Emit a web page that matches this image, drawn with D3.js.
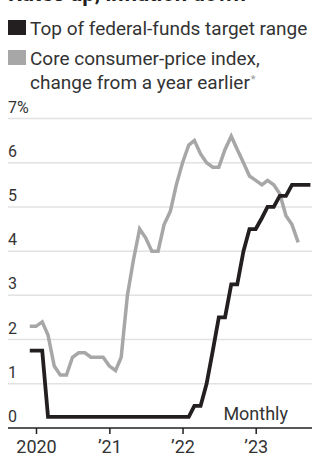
<!DOCTYPE html>
<html>
<head>
<meta charset="utf-8">
<script src="https://cdn.jsdelivr.net/npm/d3@7"></script>
<style>
  html, body { margin: 0; padding: 0; background: #fff; }
  svg { display: block; font-family: Roboto, "Noto Sans", sans-serif; }
</style>
</head>
<body>
<svg width="312" height="459"></svg>
<script>
 // monthly, Dec 2019 onward
 const fedStart = new Date(2019, 11, 1);
 const fedFunds = [1.75, 1.75, 1.75, 0.25, 0.25, 0.25, 0.25, 0.25, 0.25, 0.25, 0.25, 0.25, 0.25,
   0.25, 0.25, 0.25, 0.25, 0.25, 0.25, 0.25, 0.25, 0.25, 0.25, 0.25, 0.25,
   0.25, 0.25, 0.5, 0.5, 1.0, 1.75, 2.5, 2.5, 3.25, 3.25, 4.0, 4.5,
   4.5, 4.75, 5.0, 5.0, 5.25, 5.25, 5.5, 5.5, 5.5, 5.5];
 const coreCpi = [2.3, 2.3, 2.4, 2.1, 1.4, 1.2, 1.2, 1.6, 1.7, 1.7, 1.6, 1.6, 1.6,
   1.4, 1.3, 1.6, 3.0, 3.8, 4.5, 4.3, 4.0, 4.0, 4.6, 4.9, 5.5,
   6.0, 6.4, 6.5, 6.2, 6.0, 5.9, 5.9, 6.3, 6.6, 6.3, 6.0, 5.7,
   5.6, 5.5, 5.6, 5.5, 5.3, 4.8, 4.6, 4.2];
 const yTicks = [0, 1, 2, 3, 4, 5, 6, 7];
 const xTicks = [new Date(2020, 0, 1), new Date(2021, 0, 1), new Date(2022, 0, 1), new Date(2023, 0, 1)];
 const xTickLabels = ["2020", "\u201921", "\u201922", "\u201923"];
 const legendItems = [
   {lines: ["Top of federal-funds target range"], color: "#231f20"},
   {lines: ["Core consumer-price index,", "change from a year earlier"], color: "#a7a7a7", note: "*"}
 ];

 const svg = d3.select("svg"),
   width = +svg.attr("width"),
   height = +svg.attr("height");

 const x = d3.scaleTime()
   .domain([xTicks[0], xTicks[3]])
   .range([36, 255.7]);

 const y = d3.scaleLinear()
   .domain([0, 7])
   .range([428, 118.5]);

 const toSeries = vals => vals.map((v, i) => ({date: d3.timeMonth.offset(fedStart, i), value: v}));

 // title, mostly cut off at the top
 svg.append("text")
   .attr("x", 8)
   .attr("y", 1)
   .attr("font-size", 22)
   .attr("font-weight", 700)
   .attr("fill", "#231f20")
   .text("Rates up, inflation down");

 // legend
 const legend = svg.append("g");
 legendItems.forEach((d, i) => {
   const top = i === 0 ? 20 : 50;
   legend.append("rect")
     .attr("x", 8)
     .attr("y", top)
     .attr("width", 18)
     .attr("height", 15)
     .attr("fill", d.color);
   const t = legend.append("text")
     .attr("font-size", 19)
     .attr("fill", "#333");
   d.lines.forEach((line, j) => {
     t.append("tspan")
       .attr("x", 30)
       .attr("y", top + 14.5 + j * 24)
       .text(line);
   });
   if (d.note) {
     t.append("tspan")
       .attr("dx", 1)
       .attr("dy", -6)
       .attr("font-size", 11)
       .attr("fill", "#999")
       .text(d.note);
   }
 });

 // grid
 svg.append("g")
   .selectAll("line")
   .data(yTicks.filter(d => d > 0))
   .join("line")
     .attr("x1", 8)
     .attr("x2", width)
     .attr("y1", d => y(d))
     .attr("y2", d => y(d))
     .attr("stroke", "#e2e2e2")
     .attr("stroke-width", 1.5);

 svg.append("g")
   .selectAll("text")
   .data(yTicks)
   .join("text")
     .attr("x", 8)
     .attr("y", d => y(d) - 6)
     .attr("font-size", 16)
     .attr("fill", "#333")
     .text(d => d === 7 ? d + "%" : d);

 // x axis
 const xAxis = d3.axisBottom(x)
   .tickValues(xTicks)
   .tickSize(6)
   .tickFormat((d, i) => xTickLabels[i]);

 const gx = svg.append("g")
   .attr("transform", `translate(0,${y(0)})`)
   .call(xAxis);
 gx.select(".domain").remove();
 gx.selectAll(".tick line").attr("stroke", "#231f20").attr("stroke-width", 1.5);
 gx.selectAll(".tick text")
   .attr("font-family", "Roboto, sans-serif")
   .attr("font-size", 18)
   .attr("fill", "#333")
   .attr("y", 25)
   .attr("dy", 0);

 svg.append("line")
   .attr("x1", 8)
   .attr("x2", width)
   .attr("y1", y(0))
   .attr("y2", y(0))
   .attr("stroke", "#231f20")
   .attr("stroke-width", 1.5);

 svg.append("text")
   .attr("x", 288)
   .attr("y", 420)
   .attr("text-anchor", "end")
   .attr("font-size", 18)
   .attr("fill", "#333")
   .text("Monthly");

 const line = d3.line()
   .x(d => x(d.date))
   .y(d => y(d.value));

 svg.append("path")
   .datum(toSeries(coreCpi))
   .attr("fill", "none")
   .attr("stroke", legendItems[1].color)
   .attr("stroke-width", 3.5)
   .attr("stroke-linejoin", "miter")
   .attr("d", line);

 svg.append("path")
   .datum(toSeries(fedFunds))
   .attr("fill", "none")
   .attr("stroke", legendItems[0].color)
   .attr("stroke-width", 3.8)
   .attr("stroke-linejoin", "miter")
   .attr("d", line);
</script>
</body>
</html>
